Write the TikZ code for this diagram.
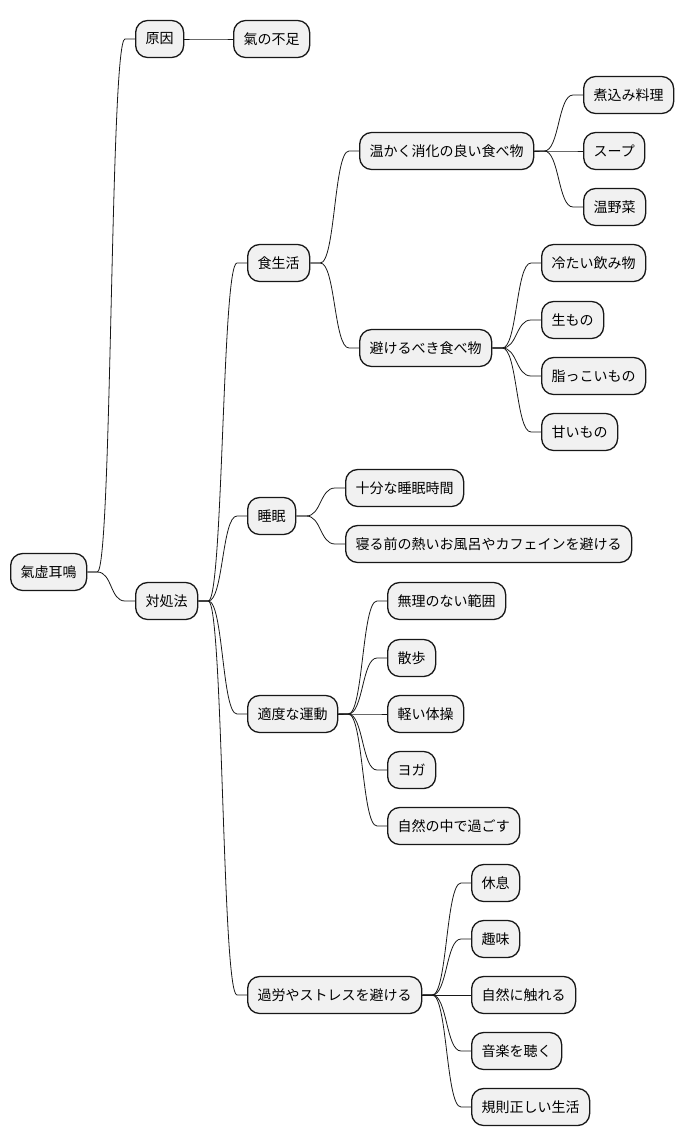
\documentclass[tikz,border=0pt]{standalone}
\usepackage{fontspec}
\setmainfont{Noto Sans CJK JP}
\usepackage{tikz}
\usetikzlibrary{calc}
\definecolor{boxfill}{HTML}{F1F1F1}
\definecolor{boxline}{HTML}{181818}

\begin{document}
\begin{tikzpicture}[
			x=1pt,y=-1pt,
			topic/.style={draw=boxline,fill=boxfill,line width=1.3pt,rounded corners=12pt,
				anchor=west,minimum height=37pt,inner xsep=10pt,inner ysep=0pt,
				font=\fontsize{14}{17}\selectfont},
			edge/.style={boxline,line width=0.8pt}
		]
		\useasboundingbox (0,0) rectangle (684,1146);

		% Root and first level
		\node[topic] (root) at (10,572) {氣虚耳鳴};
		\node[topic] (cause) at (135,39) {原因};
		\node[topic] (lack) at (233,39) {氣の不足};
		\node[topic] (care) at (135,601) {対処法};

		% Diet
		\node[topic] (diet) at (247,263) {食生活};
		\node[topic] (warm) at (359,151) {温かく消化の良い食べ物};
		\node[topic] (stew) at (583,95) {煮込み料理};
		\node[topic] (soup) at (583,151) {スープ};
		\node[topic] (veg) at (583,207) {温野菜};
		\node[topic] (avoid) at (359,348) {避けるべき食べ物};
		\node[topic] (cold) at (541,263) {冷たい飲み物};
		\node[topic] (raw) at (541,320) {生もの};
		\node[topic] (oily) at (541,376) {脂っこいもの};
		\node[topic] (sweet) at (541,432) {甘いもの};

		% Sleep
		\node[topic] (sleep) at (247,516) {睡眠};
		\node[topic] (enough) at (345,488) {十分な睡眠時間};
		\node[topic] (bath) at (345,544) {寝る前の熱いお風呂やカフェインを避ける};

		% Exercise
		\node[topic] (exer) at (247,714) {適度な運動};
		\node[topic] (limit) at (387,601) {無理のない範囲};
		\node[topic] (walk) at (387,658) {散歩};
		\node[topic] (gym) at (387,714) {軽い体操};
		\node[topic] (yoga) at (387,770) {ヨガ};
		\node[topic] (nature) at (387,826) {自然の中で過ごす};

		% Stress
		\node[topic] (stress) at (247,995) {過労やストレスを避ける};
		\node[topic] (rest) at (471,883) {休息};
		\node[topic] (hobby) at (471,939) {趣味};
		\node[topic] (touch) at (471,995) {自然に触れる};
		\node[topic] (music) at (471,1051) {音楽を聴く};
		\node[topic] (regular) at (471,1107) {規則正しい生活};

		% Branches
		\foreach \p/\c in {root/cause,cause/lack,root/care,
				care/diet,diet/warm,warm/stew,warm/soup,warm/veg,
				diet/avoid,avoid/cold,avoid/raw,avoid/oily,avoid/sweet,
				care/sleep,sleep/enough,sleep/bath,
				care/exer,exer/limit,exer/walk,exer/gym,exer/yoga,exer/nature,
				care/stress,stress/rest,stress/hobby,stress/touch,stress/music,stress/regular}
			\draw[edge] (\p.east) -- ++(10,0) to[out=0,in=180,distance=15pt]
				($(\c.west)+(-10,0)$) -- (\c.west);

	\end{tikzpicture}
\end{document}
